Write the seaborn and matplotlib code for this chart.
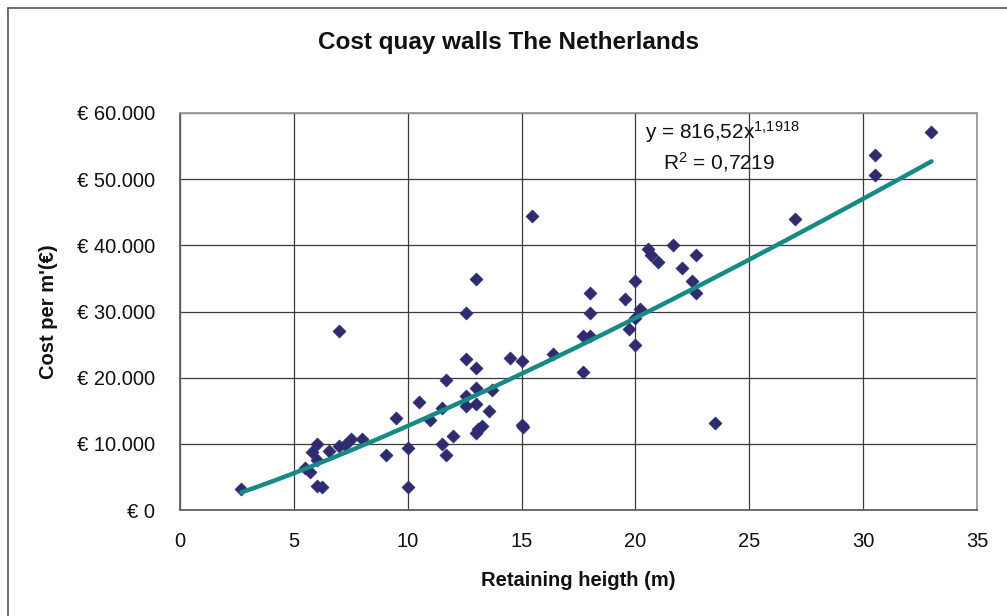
import numpy as np
import pandas as pd
import matplotlib
matplotlib.use("Agg")
import matplotlib.pyplot as plt
from matplotlib.lines import Line2D
from matplotlib.ticker import FuncFormatter
import seaborn as sns

# retaining height (m) and cost per metre (EUR)
height = [2.7, 5.5, 5.7, 5.8, 6.0, 6.0, 6.0, 6.25, 6.55, 7.0,
          7.0, 7.25, 7.5, 8.0, 9.05, 9.5, 10.0, 10.0, 10.5, 11.0,
          11.5, 11.5, 11.7, 11.7, 12.0, 12.55, 12.55, 12.55, 12.55, 13.0,
          13.0, 13.0, 13.0, 13.0, 13.1, 13.25, 13.55, 13.7, 14.5, 15.0,
          15.0, 15.05, 15.45, 16.4, 17.7, 17.7, 18.0, 18.0, 18.0, 19.55,
          19.7, 20.0, 20.0, 20.2, 20.0, 20.55, 20.7, 21.0, 21.65, 22.05,
          22.65, 22.5, 22.65, 23.5, 27.0, 30.5, 30.5, 33.0]
cost = [3200, 6300, 5800, 8800, 9900, 7600, 3700, 3450, 8900, 27100,
        9600, 9800, 10700, 10700, 8300, 13900, 9350, 3450, 16300, 13600,
        15350, 10000, 19600, 8300, 11200, 29750, 22750, 17200, 15700, 34900,
        21400, 18500, 16000, 11600, 12200, 12700, 15000, 18100, 23000, 22500,
        12900, 12500, 44500, 23600, 26300, 20900, 32800, 29800, 26300, 31950,
        27300, 34600, 29000, 30400, 24900, 39500, 38600, 37500, 40000, 36500,
        38600, 34600, 32800, 13150, 44000, 53600, 50700, 57100]

# power trendline as printed on the chart
coef_a = 816.52
coef_b = 1.1918
r_squared = 0.7219

df = pd.DataFrame({'height': height, 'cost': cost})
xs = np.linspace(min(height), max(height), 200)
trend = pd.DataFrame({'height': xs, 'cost': coef_a * xs ** coef_b})

sns.set_style("white")
plt.rcParams['font.family'] = ['Liberation Sans', 'DejaVu Sans']
plt.rcParams['mathtext.fontset'] = 'custom'
plt.rcParams['mathtext.rm'] = 'Liberation Sans'
plt.rcParams['mathtext.it'] = 'Liberation Sans'

fig, ax = plt.subplots(figsize=(10.07, 6.16), dpi=100)
fig.subplots_adjust(left=180 / 1007, right=977 / 1007,
                    bottom=1 - 510 / 616, top=1 - 113 / 616)

sns.scatterplot(data=df, x='height', y='cost', marker='D', s=46,
                color='#2E2B70', edgecolor='#2E2B70', linewidth=0.3,
                ax=ax, zorder=3)
sns.lineplot(data=trend, x='height', y='cost', color='#178A85',
             linewidth=3.2, ax=ax, zorder=4)

ax.set_xlim(0, 35)
ax.set_ylim(0, 60000)
ax.set_xticks(range(0, 36, 5))
ax.set_yticks(range(0, 60001, 10000))
ax.yaxis.set_major_formatter(
    FuncFormatter(lambda v, p: '€ ' + f'{int(v):,}'.replace(',', '.')))

ax.grid(True, color='#3a3a3a', linewidth=0.9)
ax.set_axisbelow(True)
for side in ['top', 'right']:
    ax.spines[side].set_color('#9a9a9a')
    ax.spines[side].set_linewidth(1.3)
for side in ['left', 'bottom']:
    ax.spines[side].set_color('#606060')
    ax.spines[side].set_linewidth(1.3)

ax.tick_params(axis='both', direction='out', length=5, width=1.2,
               color='#606060', labelsize=14.5, labelcolor='#111111')
ax.tick_params(axis='x', pad=11)
ax.tick_params(axis='y', pad=13)

ax.set_xlabel('Retaining heigth (m)', fontsize=14.5, fontweight='bold',
              color='#111111', va='center')
ax.xaxis.set_label_coords(0.5, (510 - 581) / 397)
ax.set_ylabel("Cost per m'(€)", fontsize=14.5, fontweight='bold',
              color='#111111', va='center')
ax.yaxis.set_label_coords((49 - 180) / 797, 0.5)

fig.suptitle('Cost quay walls The Netherlands', x=509 / 1007,
             y=1 - 43 / 616, va='center', fontsize=17.5,
             fontweight='bold', color='#111111')

a_txt = f'{coef_a:.2f}'.replace('.', ',')
b_txt = f'{coef_b:.4f}'.replace('.', '{,}')
ax.text(0.583, 0.953, 'y = ' + a_txt + 'x$^{' + b_txt + '}$',
        transform=ax.transAxes, fontsize=15, va='center', ha='left',
        color='#111111')
ax.text(0.606, 0.877, 'R$^{2}$ = ' + f'{r_squared:.4f}'.replace('.', ','),
        transform=ax.transAxes, fontsize=15, va='center', ha='left',
        color='#111111')

# outer chart frame (left and top edges visible)
fx, fy = 8 / 1007, 1 - 8 / 616
fig.add_artist(Line2D([fx, fx], [-0.1, fy], transform=fig.transFigure,
                      color='#555555', linewidth=1.2))
fig.add_artist(Line2D([fx, 1.1], [fy, fy], transform=fig.transFigure,
                      color='#555555', linewidth=1.2))

fig.savefig('out.png', dpi=100, facecolor='white')
